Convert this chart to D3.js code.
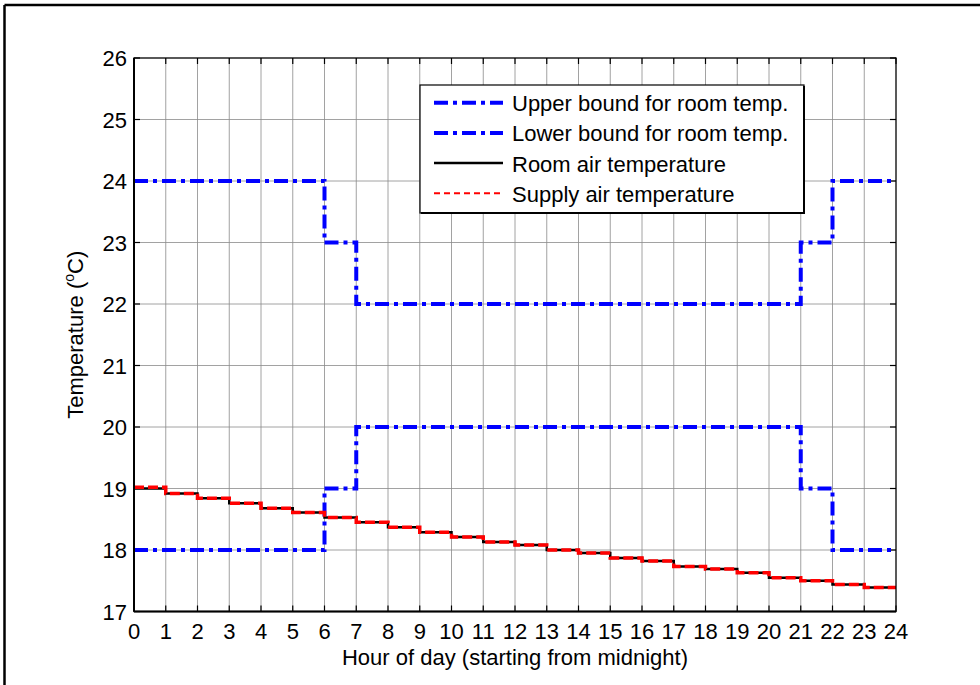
<!DOCTYPE html>
<meta charset="utf-8">
<style>
  body { margin: 0; background: #fff; font-family: Arial, "Liberation Sans", sans-serif; overflow: hidden; }
  svg { display: block; }
  svg text { fill: #000; }
</style>
<body>
<script src="https://d3js.org/d3.v7.min.js"></script>
<div id="chart"></div>
<script>
// hourly values (value holds from hour i to i+1)
const hours = d3.range(0, 25);
const upperBound = [24, 24, 24, 24, 24, 24, 23, 22, 22, 22, 22, 22, 22, 22, 22, 22, 22, 22, 22, 22, 22, 23, 24, 24];
const lowerBound = [18, 18, 18, 18, 18, 18, 19, 20, 20, 20, 20, 20, 20, 20, 20, 20, 20, 20, 20, 20, 20, 19, 18, 18];
const roomTemp = [19.00, 18.92, 18.84, 18.76, 18.68, 18.61, 18.53, 18.45, 18.37, 18.29, 18.21, 18.13, 18.08, 18.00,
                  17.95, 17.87, 17.82, 17.73, 17.69, 17.63, 17.55, 17.50, 17.44, 17.39];
const supplyTemp = [19.02, 18.92, 18.84, 18.76, 18.68, 18.61, 18.53, 18.45, 18.37, 18.29, 18.21, 18.13, 18.08, 18.00,
                  17.95, 17.87, 17.82, 17.73, 17.69, 17.63, 17.55, 17.50, 17.44, 17.39];
const yTicks = d3.range(17, 27);
const legendItems = [
  {label: "Upper bound for room temp.", color: "#0000ff", dash: "14,5,4,5", w: 4},
  {label: "Lower bound for room temp.", color: "#0000ff", dash: "14,5,4,5", w: 4},
  {label: "Room air temperature", color: "#000", dash: null, w: 2.5},
  {label: "Supply air temperature", color: "#ff0000", dash: "6,4", w: 2}
];

const W = 980, H = 685;
const pLeft = 134, pRight = 896, pTop = 58, pBottom = 611.5;
const fs = 22;

const svg = d3.select("#chart").append("svg")
  .attr("width", W).attr("height", H);

// outer frame (only top and left edges are inside the picture)
svg.append("line").attr("x1", 4.5).attr("x2", W).attr("y1", 5).attr("y2", 5)
  .attr("stroke", "#000").attr("stroke-width", 2.5);
svg.append("line").attr("x1", 4.5).attr("x2", 4.5).attr("y1", 5).attr("y2", H)
  .attr("stroke", "#000").attr("stroke-width", 2.5);

const x = d3.scaleLinear().domain([0, 24]).range([pLeft, pRight]);
const y = d3.scaleLinear().domain([17, 26]).range([pBottom, pTop]);

// grid
const grid = svg.append("g").attr("stroke", "#8a8a8a").attr("stroke-width", 0.8);
grid.selectAll("line.v").data(hours.slice(1, -1)).join("line")
  .attr("x1", d => x(d)).attr("x2", d => x(d)).attr("y1", pTop).attr("y2", pBottom);
grid.selectAll("line.h").data(yTicks.slice(1, -1)).join("line")
  .attr("y1", d => y(d)).attr("y2", d => y(d)).attr("x1", pLeft).attr("x2", pRight);

// inward ticks (MATLAB style)
const tickLen = 6;
const ticks = svg.append("g").attr("stroke", "#000").attr("stroke-width", 1.2);
hours.forEach(h => {
  ticks.append("line").attr("x1", x(h)).attr("x2", x(h)).attr("y1", pBottom).attr("y2", pBottom - tickLen);
  ticks.append("line").attr("x1", x(h)).attr("x2", x(h)).attr("y1", pTop).attr("y2", pTop + tickLen);
});
yTicks.forEach(t => {
  ticks.append("line").attr("x1", pLeft).attr("x2", pLeft + tickLen).attr("y1", y(t)).attr("y2", y(t));
  ticks.append("line").attr("x1", pRight).attr("x2", pRight - tickLen).attr("y1", y(t)).attr("y2", y(t));
});

// step data
const stepPts = vals => vals.map((v, i) => [i, v]).concat([[24, vals[vals.length - 1]]]);
const line = d3.line().x(d => x(d[0])).y(d => y(d[1])).curve(d3.curveStepAfter);

const plot = svg.append("g");
plot.append("path").attr("d", line(stepPts(upperBound)))
  .attr("fill", "none").attr("stroke", "#0000ff").attr("stroke-width", 4).attr("stroke-dasharray", "14,5,4,5");
plot.append("path").attr("d", line(stepPts(lowerBound)))
  .attr("fill", "none").attr("stroke", "#0000ff").attr("stroke-width", 4).attr("stroke-dasharray", "14,5,4,5");
plot.append("path").attr("d", line(stepPts(roomTemp)))
  .attr("fill", "none").attr("stroke", "#000").attr("stroke-width", 2.5);
plot.append("path").attr("d", line(stepPts(supplyTemp)))
  .attr("fill", "none").attr("stroke", "#ff0000").attr("stroke-width", 3.5).attr("stroke-dasharray", "10,4");

// axes box
svg.append("rect").attr("x", pLeft).attr("y", pTop).attr("width", pRight - pLeft).attr("height", pBottom - pTop)
  .attr("fill", "none").attr("stroke", "#000").attr("stroke-width", 1.3);
svg.append("line").attr("x1", pLeft).attr("x2", pLeft).attr("y1", pTop).attr("y2", pBottom)
  .attr("stroke", "#000").attr("stroke-width", 2);
svg.append("line").attr("x1", pLeft).attr("x2", pRight).attr("y1", pBottom).attr("y2", pBottom)
  .attr("stroke", "#000").attr("stroke-width", 2);

// tick labels
svg.append("g").selectAll("text").data(hours).join("text")
  .attr("x", d => x(d)).attr("y", pBottom + 27)
  .attr("text-anchor", "middle").attr("font-size", fs).text(d => d);
svg.append("g").selectAll("text").data(yTicks).join("text")
  .attr("x", pLeft - 7).attr("y", d => y(d) + 8)
  .attr("text-anchor", "end").attr("font-size", fs).text(d => d);

// axis labels
svg.append("text").attr("x", (pLeft + pRight) / 2).attr("y", 665)
  .attr("text-anchor", "middle").attr("font-size", fs).text("Hour of day (starting from midnight)");
const yl = svg.append("text").attr("transform", `translate(83,${(pTop + pBottom) / 2}) rotate(-90)`)
  .attr("text-anchor", "middle").attr("font-size", fs);
yl.append("tspan").text("Temperature (");
yl.append("tspan").attr("font-size", 14).attr("dy", -9).text("o");
yl.append("tspan").attr("dy", 9).text("C)");

// legend
const lg = svg.append("g");
lg.append("rect").attr("x", 420).attr("y", 85).attr("width", 384).attr("height", 128)
  .attr("fill", "#fff").attr("stroke", "#000").attr("stroke-width", 1.2);
lg.append("line").attr("x1", 804).attr("x2", 804).attr("y1", 86).attr("y2", 213).attr("stroke", "#000").attr("stroke-width", 2);
lg.append("line").attr("x1", 421).attr("x2", 805).attr("y1", 213).attr("y2", 213).attr("stroke", "#000").attr("stroke-width", 2);
legendItems.forEach((d, i) => {
  const yy = 102.7 + i * 30.2;
  lg.append("line").attr("x1", 434).attr("x2", 503).attr("y1", yy).attr("y2", yy)
    .attr("stroke", d.color).attr("stroke-width", d.w)
    .attr("stroke-dasharray", d.dash);
  lg.append("text").attr("x", 512).attr("y", yy + 8.5).attr("font-size", fs).text(d.label);
});
</script>
</body>
